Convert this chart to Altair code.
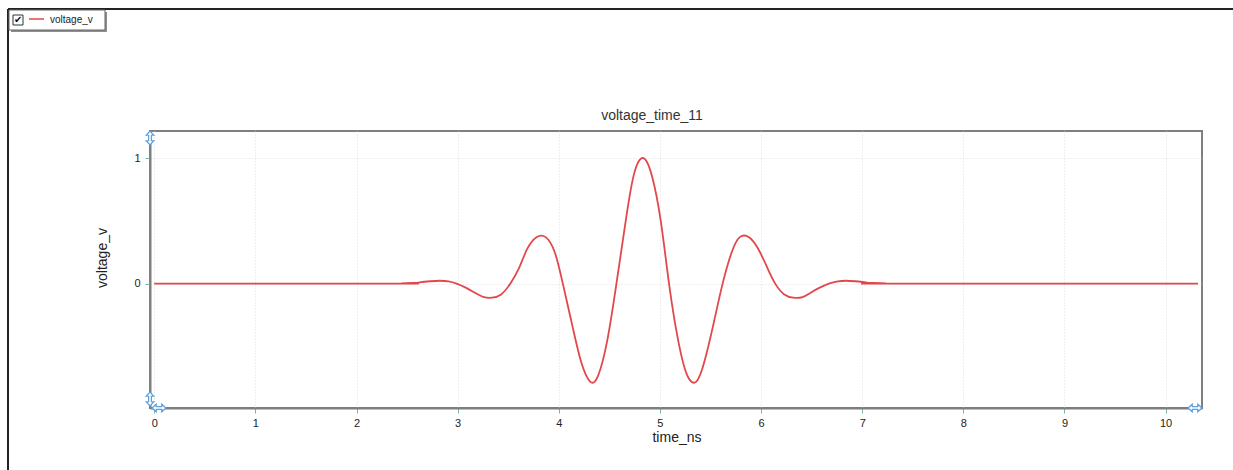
import altair as alt
import pandas as pd

# ---- data ----
time_ns = [0.0, 2.40, 2.47, 2.56, 2.64, 2.73, 2.82, 2.91, 2.99, 3.08, 3.17, 3.26,
           3.34, 3.43, 3.52, 3.61, 3.69, 3.78, 3.87, 3.96, 4.04, 4.13, 4.22, 4.31,
           4.39, 4.48, 4.57, 4.66, 4.74, 4.83, 4.92, 5.01, 5.09, 5.18, 5.27, 5.36,
           5.44, 5.53, 5.62, 5.71, 5.79, 5.88, 5.97, 6.06, 6.14, 6.23, 6.32, 6.41,
           6.49, 6.58, 6.67, 6.76, 6.84, 6.93, 7.02, 7.11, 7.19, 7.26, 10.32]
voltage_v = [0.0, 0.0, 0.002, 0.005, 0.012, 0.019, 0.023, 0.018, 0.0, -0.032, -0.072, -0.107,
             -0.112, -0.086, 0.0, 0.13, 0.28, 0.37, 0.37, 0.25, 0.0, -0.32, -0.62, -0.78,
             -0.73, -0.45, 0.0, 0.49, 0.86, 1.00, 0.86, 0.49, 0.0, -0.45, -0.73, -0.78,
             -0.62, -0.32, 0.0, 0.25, 0.37, 0.37, 0.28, 0.13, 0.0, -0.086, -0.112, -0.107,
             -0.072, -0.032, 0.0, 0.018, 0.023, 0.019, 0.012, 0.005, 0.002, 0.0, 0.0]
x_ticks = [0, 1, 2, 3, 4, 5, 6, 7, 8, 9, 10]
y_ticks = [0, 1]
chart_title = "voltage_time_11"
x_title = "time_ns"
y_title = "voltage_v"
legend_label = "voltage_v"

df = pd.DataFrame({"time_ns": time_ns, "voltage_v": voltage_v})
one = alt.Data(values=[{"k": 1}])

FONT = "Liberation Sans"
RED = "#e2474b"
BLUE = "#5b9fe0"

line = alt.Chart(df).mark_line(color=RED, strokeWidth=1.8, interpolate="natural").encode(
    x=alt.X("time_ns:Q",
            scale=alt.Scale(domain=[-0.042, 10.36], nice=False, zero=False),
            axis=alt.Axis(values=x_ticks, title=None, labelPadding=4, format="d")),
    y=alt.Y("voltage_v:Q",
            scale=alt.Scale(domain=[-0.99, 1.215], nice=False, zero=False),
            axis=alt.Axis(values=y_ticks, title=None, labelPadding=5, format="d")),
)

def txt(text, x, y, size, angle=0, align="center", color="#222"):
    m = alt.Chart(one).mark_text(text=text, font=FONT, fontSize=size, color=color,
                                 align=align, baseline="middle", angle=angle)
    return m.encode(x=alt.value(x), y=alt.value(y))

def rule(x, x2, y, y2, color, w):
    return alt.Chart(one).mark_rule(color=color, strokeWidth=w).encode(
        x=alt.value(x), x2=alt.value(x2), y=alt.value(y), y2=alt.value(y2))

def rect(x, x2, y, y2, fill, stroke=None, sw=1):
    kw = dict(fill=fill)
    if stroke:
        kw.update(stroke=stroke, strokeWidth=sw)
    return alt.Chart(one).mark_rect(**kw).encode(
        x=alt.value(x), x2=alt.value(x2), y=alt.value(y), y2=alt.value(y2))

arrow = "M0,-1L0.55,-0.4L0.2,-0.4L0.2,0.4L0.55,0.4L0,1L-0.55,0.4L-0.2,0.4L-0.2,-0.4L-0.55,-0.4Z"

def handle(x, y, angle):
    return alt.Chart(one).mark_point(shape=arrow, fill="white", stroke=BLUE, strokeWidth=1.2,
                                     opacity=1, size=190, angle=angle).encode(
        x=alt.value(x), y=alt.value(y))

layers = [
    line,
    # outer frame
    rule(-142, 1083, -122, -122, "#222", 2),
    rule(-142, -142, -122, 339, "#222", 2),
    # legend box
    rect(-139, -43, -119, -99, "#8f8f8f"),
    rect(-141, -45, -121, -101, "white", "#666", 1),
    rect(-137, -127, -116, -106, "white", "#333", 1),
    txt("\u2714", -132, -111, 10, color="#111"),
    rule(-121, -106, -112, -112, RED, 1.5),
    txt(legend_label, -100, -111, 10, align="left"),
    # titles
    txt(chart_title, 502, -15, 14, color="#333"),
    txt(x_title, 527, 307, 14),
    txt(y_title, -47, 127, 14, angle=270),
    # axis handles
    handle(0, 7, 0),
    handle(0, 268, 0),
    handle(9, 277, 90),
    handle(1045, 277, 90),
]

chart = alt.layer(*layers).properties(
    width=1052, height=277,
    autosize="none",
    padding={"left": 150, "top": 131, "right": 31, "bottom": 62},
).configure_view(
    stroke="#7f7f7f", strokeWidth=2
).configure_axis(
    domainColor="#7f7f7f", domainWidth=2,
    tickColor="#7ab3ae", tickSize=5, tickWidth=1,
    labelFont=FONT, labelFontSize=11, labelColor="#222",
    grid=True, gridColor="#dedede", gridDash=[1, 2], gridWidth=1,
)

chart.save("out.html", embed_options={"renderer": "svg", "actions": False})
